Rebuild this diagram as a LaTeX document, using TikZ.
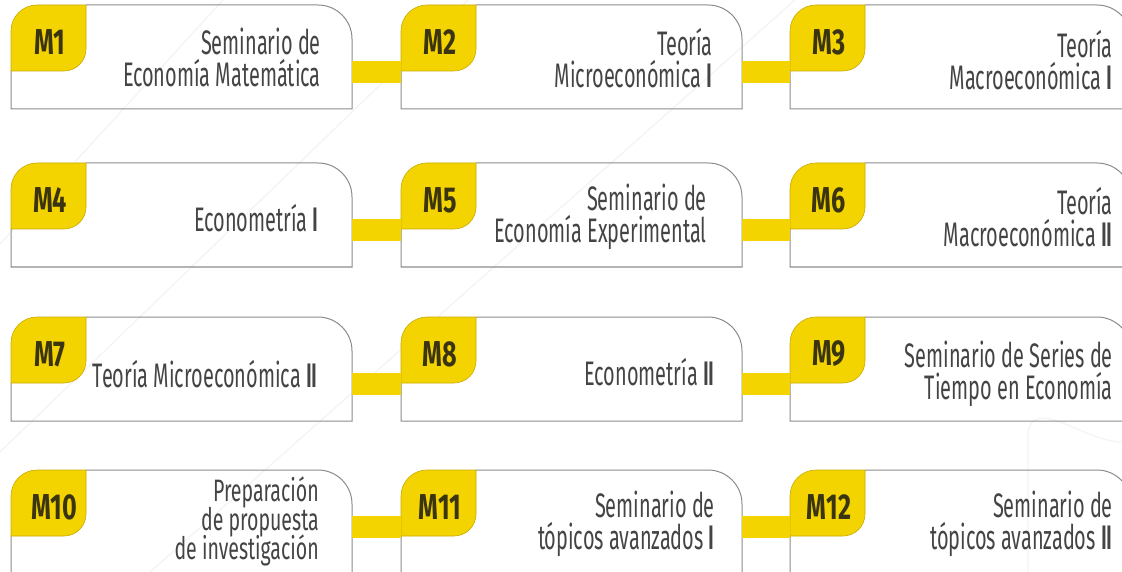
\documentclass[tikz,border=0pt]{standalone}
\usepackage{fontspec}
\setmainfont{Fira Sans}[FakeStretch=0.585, BoldFont=* SemiBold]
\newfontfamily\numfont{Fira Sans}[FakeStretch=0.7, UprightFont=* Bold]
\newfontfamily\tightfam{Fira Sans}[FakeStretch=0.63]
\usetikzlibrary{calc}
\definecolor{myyellow}{RGB}{244,212,0}
\definecolor{tabedge}{RGB}{200,170,0}
\definecolor{boxgray}{RGB}{140,140,140}
\definecolor{txtgray}{RGB}{68,68,68}
\definecolor{numcol}{RGB}{58,52,16}
\definecolor{faint}{RGB}{242,242,242}
\newcommand\bodyfont{\fontsize{34}{32}\selectfont\lineskiplimit -50pt\relax}
\newcommand\tightfont{\tightfam\fontsize{31}{29}\selectfont\lineskiplimit -50pt\relax}
\tikzset{
  boxline/.style={draw=boxgray, line width=1pt},
  tab/.style={fill=myyellow, draw=tabedge, line width=0.6pt},
  mlabel/.style={font=\numfont\fontsize{36}{36}\selectfont, text=numcol, inner sep=0pt},
  btext/.style={font=\bodyfont, text=txtgray, inner sep=0pt, align=right, anchor=east},
  bar/.style={fill=myyellow},
  faintline/.style={draw=faint, line width=1pt}
}
\newcommand\modbox[5]{% name, X, Y, label, label x offset
  \coordinate (#1) at (#2,#3);
  \draw[boxline] (#2+75,#3) -- (#2+307,#3) arc[start angle=-90,end angle=0,radius=34] -- (#2+341,#3+104) -- (#2,#3+104) -- (#2,#3+66);
  \filldraw[tab] (#2,#3+26) arc[start angle=180,end angle=270,radius=26] -- (#2+75,#3) -- (#2+75,#3+44) arc[start angle=0,end angle=90,radius=22] -- (#2,#3+66) -- cycle;
  \node[mlabel] (#1-l) at (#2+#5,#3+37) {#4};
}
\begin{document}
\begin{tikzpicture}[x=1pt,y=-1pt]
\useasboundingbox (0,0) rectangle (1122,572);
\clip (0,0) rectangle (1122,572);
\fill[white] (0,0) rectangle (1122,572);

% faint background lines
\draw[faintline] (468,0) -- (0,452);
\draw[faintline] (795,0) -- (150,572);
\draw[faintline] (223,0) -- (0,244);
\draw[faintline] (1028,572) -- (1028,432) to[out=80,in=180] (1122,442);

% boxes
\modbox{b1}{11}{5}{M1}{39}
\modbox{b2}{401}{5}{M2}{39}
\modbox{b3}{790}{5}{M3}{39}
\modbox{b4}{11}{163}{M4}{39}
\modbox{b5}{401}{163}{M5}{39}
\modbox{b6}{790}{163}{M6}{39}
\modbox{b7}{11}{317}{M7}{39}
\modbox{b8}{401}{317}{M8}{39}
\modbox{b9}{790}{317}{M9}{39}
\modbox{b10}{11}{470}{M10}{43}
\modbox{b11}{401}{470}{M11}{39}
\modbox{b12}{790}{470}{M12}{39}

% connectors
\fill[bar] ($(b1)+(341,56)$) rectangle ($(b2)+(0,78)$);
\fill[bar] ($(b2)+(341,56)$) rectangle ($(b3)+(0,78)$);
\fill[bar] ($(b4)+(341,56)$) rectangle ($(b5)+(0,78)$);
\fill[bar] ($(b5)+(341,56)$) rectangle ($(b6)+(0,78)$);
\fill[bar] ($(b7)+(341,56)$) rectangle ($(b8)+(0,78)$);
\fill[bar] ($(b8)+(341,56)$) rectangle ($(b9)+(0,78)$);
\fill[bar] ($(b10)+(341,46)$) rectangle ($(b11)+(0,68)$);
\fill[bar] ($(b11)+(341,46)$) rectangle ($(b12)+(0,68)$);

% texts
\node[btext] (t1) at (321,57) {Seminario de\\Economía Matemática};
\node[btext] (t2) at (713,58) {Teoría\\Microeconómica \textbf{I}};
\node[btext] (t3) at (1113,60) {Teoría\\Macroeconómica \textbf{I}};
\node[btext] (t4) at (319,218) {Econometría \textbf{I}};
\node[btext] (t5) at (707,217) {Seminario de\\Economía Experimental};
\node[btext] (t6) at (1113,217) {Teoría\\Macroeconómica \textbf{II}};
\node[btext] (t7) at (318,374) {Teoría Microeconómica \textbf{II}};
\node[btext] (t8) at (715,372) {Econometría \textbf{II}};
\node[btext] (t9) at (1113,374) {Seminario de Series de\\Tiempo en Economía};
\node[btext, font=\tightfont] (t10) at (319,521) {Preparación\\de propuesta\\de investigación};
\node[btext] (t11) at (715,524) {Seminario de\\tópicos avanzados \textbf{I}};
\node[btext] (t12) at (1113,524) {Seminario de\\tópicos avanzados \textbf{II}};
\end{tikzpicture}
\end{document}
